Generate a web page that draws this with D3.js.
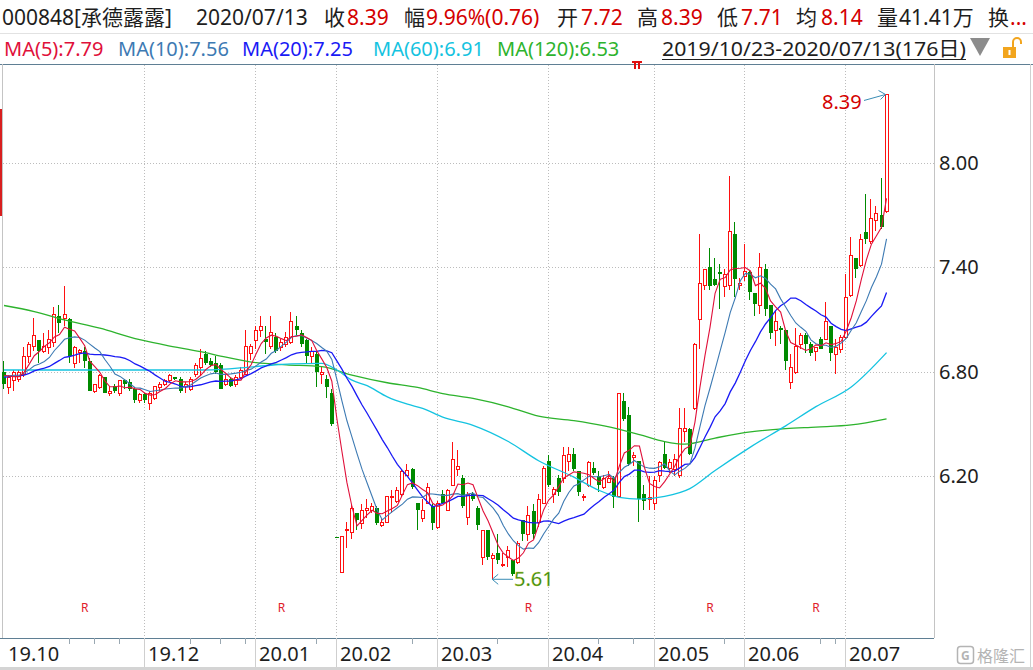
<!DOCTYPE html>
<html><head><meta charset="utf-8">
<script src="https://cdn.jsdelivr.net/npm/d3@7"></script>
<style>
html,body{margin:0;padding:0;background:#fff;}
svg{display:block;font-family:"Noto Sans","Noto Sans CJK SC",sans-serif;}
</style></head>
<body><svg id="c" width="1033" height="670"></svg>
<script>
// ---------------- data ----------------
const opens = [6.80,6.71,6.75,6.76,6.79,6.89,6.95,6.98,6.92,6.94,
6.97,7.12,7.11,7.10,6.85,6.915,6.92,6.86,6.69,6.71,
6.77,6.68,6.72,6.68,6.75,6.74,6.70,6.64,6.67,6.62,
6.65,6.71,6.73,6.75,6.77,6.76,6.72,6.70,6.79,6.83,
6.90,6.86,6.85,6.84,6.73,6.76,6.73,6.77,6.79,6.91,
6.98,7.04,6.99,6.95,7.00,6.94,6.96,6.97,7.06,7.02,
6.98,6.89,6.90,6.79,6.76,6.68,5.85,5.65,5.89,5.88,
5.99,5.93,6.01,6.01,6.02,5.92,5.94,6.08,6.06,6.10,
6.206,6.24,6.05,5.96,6.05,6.03,5.91,6.10,6.01,6.15,
6.24,6.19,5.97,6.10,6.02,5.74,5.89,5.73,5.76,5.69,
5.74,5.72,5.71,5.95,5.87,6.00,5.94,6.05,6.29,6.10,
6.19,6.19,6.29,6.33,6.23,6.08,6.15,6.25,6.20,6.14,
6.167,6.19,6.09,6.63,6.55,6.31,6.29,6.10,6.07,6.05,
6.21,6.33,6.25,6.24,6.21,6.46,6.47,6.59,7.10,7.30,
7.40,7.33,7.37,7.29,7.30,7.59,7.30,7.35,7.37,7.25,
7.18,7.39,7.18,7.04,7.05,7.04,6.74,6.80,6.96,7.01,
6.96,6.92,6.99,6.99,7.06,6.90,6.93,7.00,7.24,7.45,
7.41,7.60,7.55,7.67,7.70,7.72];
const highs = [6.86,6.78,6.81,6.81,6.94,6.97,7.11,6.98,7.02,7.04,
7.17,7.18,7.29,7.11,6.95,6.93,6.94,6.88,6.73,6.79,
6.77,6.72,6.73,6.75,6.76,6.76,6.71,6.68,6.68,6.69,
6.72,6.74,6.76,6.79,6.77,6.77,6.74,6.77,6.85,6.93,
6.92,6.88,6.89,6.85,6.78,6.77,6.78,6.83,7.04,6.96,
7.06,7.12,7.06,7.12,7.02,6.99,7.03,7.14,7.12,7.04,
6.99,6.94,6.92,6.83,6.78,6.70,5.85,5.86,5.94,6.04,
5.99,6.04,6.07,6.05,6.03,5.96,6.09,6.12,6.14,6.24,
6.27,6.25,6.05,6.07,6.16,6.04,6.06,6.12,6.13,6.40,
6.35,6.21,6.11,6.11,6.03,5.89,5.89,5.76,5.87,5.76,
5.80,5.72,5.83,5.95,6.03,6.04,6.10,6.26,6.32,6.14,
6.21,6.37,6.37,6.36,6.23,6.10,6.29,6.28,6.23,6.21,
6.23,6.20,6.68,6.68,6.60,6.34,6.29,6.15,6.20,6.20,
6.29,6.40,6.30,6.33,6.59,6.59,6.48,6.963,7.59,7.39,
7.51,7.45,7.42,7.39,7.92,7.66,7.34,7.53,7.38,7.25,
7.48,7.42,7.18,7.15,7.06,7.04,6.90,7.05,7.02,7.02,
6.97,6.94,7.00,7.20,7.06,6.99,7.01,7.36,7.57,7.45,
7.59,7.82,7.79,7.75,7.91,8.39];
const lows = [6.70,6.67,6.69,6.74,6.77,6.85,6.92,6.85,6.91,6.90,
6.94,7.02,7.06,6.85,6.82,6.85,6.82,6.69,6.68,6.70,
6.68,6.66,6.68,6.66,6.70,6.69,6.62,6.62,6.62,6.58,
6.64,6.69,6.72,6.74,6.75,6.68,6.68,6.69,6.77,6.78,
6.84,6.83,6.79,6.70,6.72,6.71,6.71,6.76,6.78,6.87,
6.93,7.00,6.90,6.93,6.91,6.92,6.94,6.96,7.01,6.94,
6.85,6.85,6.71,6.73,6.65,6.49,5.85,5.65,5.79,5.84,
5.89,5.90,5.96,5.99,5.92,5.91,5.94,5.99,6.05,6.08,
6.20,6.13,5.89,5.94,6.04,5.89,5.90,6.04,6.00,6.15,
6.20,6.02,5.92,6.06,5.89,5.69,5.72,5.61,5.70,5.68,
5.68,5.63,5.70,5.83,5.83,5.84,5.91,6.04,6.14,6.05,
6.09,6.16,6.23,6.23,6.09,6.06,6.14,6.21,6.11,6.13,
6.16,6.02,6.08,6.52,6.26,6.26,5.94,6.01,6.01,6.01,
6.17,6.24,6.22,6.20,6.19,6.40,6.32,6.58,6.93,7.27,
7.27,7.29,7.16,7.23,7.27,7.23,7.27,7.32,7.21,7.12,
7.13,7.12,6.99,6.95,6.96,6.81,6.70,6.79,6.93,6.91,
6.89,6.86,6.93,6.99,6.86,6.79,6.91,6.99,7.23,7.34,
7.40,7.53,7.53,7.61,7.62,7.71];
const closes = [6.73,6.77,6.80,6.80,6.89,6.96,7.01,6.92,6.95,6.99,
7.13,7.08,7.13,6.89,6.94,6.925,6.86,6.69,6.73,6.78,
6.68,6.69,6.69,6.75,6.73,6.70,6.64,6.67,6.64,6.68,
6.72,6.73,6.75,6.78,6.76,6.69,6.73,6.76,6.84,6.88,
6.85,6.84,6.80,6.70,6.76,6.72,6.77,6.81,6.95,6.95,
7.04,7.06,6.97,7.03,6.92,6.97,7.00,7.09,7.04,6.96,
6.89,6.92,6.80,6.80,6.71,6.50,5.85,5.86,5.90,6.02,
5.95,6.01,6.02,6.03,5.93,5.94,6.09,6.09,6.12,6.23,
6.234,6.14,6.01,6.01,6.14,5.93,6.05,6.05,6.12,6.30,
6.26,6.03,6.10,6.07,5.92,5.89,5.74,5.75,5.72,5.70,
5.78,5.64,5.82,5.87,5.98,5.87,6.07,6.25,6.15,6.13,
6.11,6.32,6.33,6.24,6.11,6.09,6.28,6.22,6.15,6.19,
6.192,6.08,6.68,6.53,6.27,6.32,6.07,6.06,6.08,6.18,
6.28,6.25,6.28,6.30,6.48,6.48,6.33,6.96,7.31,7.39,
7.29,7.30,7.36,7.36,7.61,7.33,7.31,7.38,7.26,7.19,
7.40,7.16,7.02,7.09,7.04,6.86,6.83,6.95,7.01,6.96,
6.91,6.94,6.93,7.09,6.91,6.94,7.00,7.23,7.47,7.39,
7.56,7.56,7.68,7.71,7.63,8.39];
// closes of the 19 sessions before 2019/10/23 (for MA5/10/20 warm-up)
const priorCloses = [6.70,6.74,6.78,6.80,6.76,6.72,6.75,6.79,6.81,6.78,6.74,6.77,6.80,6.78,6.75,6.79,6.82,6.80,6.76];
// MA60 / MA120: [session index, value]
const ma60Read = [[0,6.81],[20,6.81],[40,6.81],[50,6.83],[57,6.845],[63,6.848],[66,6.81],[69,6.752],[72,6.72],[76,6.656],[80,6.614],[83,6.59],[87,6.54],[93,6.493],[100,6.40],[106,6.29],[113,6.196],[118,6.12],[122,6.08],[126,6.07],[131,6.085],[136,6.13],[141,6.234],[148,6.368],[155,6.49],[161,6.60],[168,6.713],[175,6.91]];
const ma120Read = [[0,7.18],[6,7.145],[12,7.097],[19,7.05],[26,6.99],[32,6.953],[39,6.915],[44,6.884],[50,6.852],[56,6.84],[63,6.829],[69,6.781],[76,6.737],[82,6.71],[87,6.675],[93,6.647],[100,6.599],[106,6.545],[113,6.52],[119,6.49],[126,6.44],[131,6.40],[135,6.385],[141,6.42],[148,6.455],[155,6.474],[161,6.483],[168,6.495],[175,6.53]];
const yTicks = [8.00, 7.40, 6.80, 6.20];
const monthLabels = ["19.10","19.12","20.01","20.02","20.03","20.04","20.05","20.06","20.07"];
const monthStart = [0,28,50,66,86,108,129,147,167];
const minorTicks = [13,18,23,37,43,48,62,81,98,118,125,143,162,165];
const rMarks = [16,55,104,140,161];

// ---------------- setup ----------------
const W=1033,H=670;
const RED="#ff1010", GREEN="#008a00", DARK="#1e1e1e", NUMRED="#d40000";
const C5="#e0103a", C10="#3d7ab3", C20="#1a1af5", C60="#14c3e0", C120="#2db32d";
const svg=d3.select("#c");
const plotL=3, plotR=934, plotT=64, plotB=638;
const N=closes.length;
const x=d3.scaleBand().domain(d3.range(N)).range([1.5,1.5+N*5.043]).padding(0);
const bw=x.bandwidth();
const xc=i=>x(i)+bw/2;
const cx=i=>Math.round(xc(i));
const y=d3.scaleLinear().domain([6.20,8.00]).range([476.4,162.5]);

// header
const hdr=svg.append("g").attr("font-size",20);
hdr.append("line").attr("x1",0).attr("x2",W).attr("y1",33.5).attr("y2",33.5).attr("stroke","#e2e2e2");
const row1=[
 ["000848[承德露露]",2,DARK],["2020/07/13",196,DARK],["收",324,DARK],["8.39",347,NUMRED],
 ["幅",404,DARK],["9.96%(0.76)",426,NUMRED],["开",557,DARK],["7.72",581,NUMRED],
 ["高",637,DARK],["8.39",661,NUMRED],["低",717,DARK],["7.71",741,NUMRED],
 ["均",796,DARK],["8.14",821,NUMRED],["量",877,DARK],["41.41万",899,DARK],
 ["换",988,DARK],["...",1010,NUMRED]];
row1.forEach(d=>hdr.append("text").attr("x",d[1]).attr("y",25).attr("font-size",21).attr("fill",d[2]).text(d[0]));
const row2=[["MA(5):7.79",4,C5],["MA(10):7.56",118,C10],["MA(20):7.25",242,C20],["MA(60):6.91",373,C60],["MA(120):6.53",497,C120]];
row2.forEach(d=>hdr.append("text").attr("x",d[1]).attr("y",56).attr("fill",d[2]).text(d[0]));
hdr.append("text").attr("x",662).attr("y",56).attr("fill",DARK).attr("textLength",304).attr("lengthAdjust","spacingAndGlyphs").text("2019/10/23-2020/07/13(176日)");
hdr.append("line").attr("x1",662).attr("x2",966).attr("y1",59.5).attr("y2",59.5).attr("stroke",DARK);
hdr.append("path").attr("d","M970,38 L990,38 L980,56 Z").attr("fill","#8c8c8c");
// lock
hdr.append("rect").attr("x",1003).attr("y",47).attr("width",13).attr("height",11).attr("fill","#f2a51e");
hdr.append("rect").attr("x",1008.5).attr("y",50).attr("width",2).attr("height",5).attr("fill","#fff");
hdr.append("path").attr("d","M1013,47 L1013,42 A4,4 0 0 1 1021,42 L1021,44").attr("fill","none").attr("stroke","#f2a51e").attr("stroke-width",2);

// frame
const fr=svg.append("g").attr("shape-rendering","crispEdges");
fr.append("line").attr("x1",0).attr("x2",W).attr("y1",64.5).attr("y2",64.5).attr("stroke","#5f7f94");
fr.append("line").attr("x1",2.5).attr("x2",2.5).attr("y1",64).attr("y2",plotB).attr("stroke","#c4c4c4");
fr.append("line").attr("x1",plotR+0.5).attr("x2",plotR+0.5).attr("y1",64).attr("y2",plotB).attr("stroke","#c4c4c4");
fr.append("line").attr("x1",1030.5).attr("x2",1030.5).attr("y1",64).attr("y2",H).attr("stroke","#d0d0d0");
fr.append("rect").attr("x",0).attr("y",109).attr("width",2).attr("height",107).attr("fill","#d81e1e");
// news marker
fr.append("path").attr("d","M632,61 h10 v2 h-2 v6 h-2 v-6 h-2 v6 h-2 v-6 h-2 z").attr("fill","#e01010");

// grid
const gr=svg.append("g").attr("shape-rendering","crispEdges").attr("stroke","#bcbcbc").attr("stroke-dasharray","1,2");
yTicks.forEach(v=>gr.append("line").attr("x1",plotL).attr("x2",plotR).attr("y1",Math.round(y(v))+0.5).attr("y2",Math.round(y(v))+0.5));
monthStart.slice(1).forEach(i=>gr.append("line").attr("x1",cx(i)-0.5).attr("x2",cx(i)-0.5).attr("y1",65).attr("y2",plotB));
// y labels
const yl=svg.append("g").attr("font-size",20).attr("fill",DARK);
yTicks.forEach(v=>yl.append("text").attr("x",939).attr("y",y(v)+7).text(d3.format(".2f")(v)));

// x axis
const xa=svg.append("g").attr("shape-rendering","crispEdges");
xa.append("line").attr("x1",0).attr("x2",plotR).attr("y1",plotB+0.5).attr("y2",plotB+0.5).attr("stroke","#5f7f94");
monthStart.slice(1).forEach(i=>xa.append("line").attr("x1",cx(i)-0.5).attr("x2",cx(i)-0.5).attr("y1",plotB).attr("y2",667).attr("stroke","#cfcfcf"));
minorTicks.forEach(i=>xa.append("line").attr("x1",cx(i)-0.5).attr("x2",cx(i)-0.5).attr("y1",plotB).attr("y2",plotB+6).attr("stroke","#9aa8b2"));
monthLabels.forEach((t,k)=>svg.append("text").attr("x",monthStart[k]===0?8:cx(monthStart[k])+3).attr("y",661).attr("font-size",20).attr("fill",DARK).text(t));
xa.append("rect").attr("x",0).attr("y",667).attr("width",W).attr("height",3).attr("fill","#d4d4d4");
rMarks.forEach(i=>svg.append("text").attr("x",xc(i)).attr("y",612).attr("text-anchor","middle").attr("font-size",12).attr("fill","#e0202a").text("R"));
// watermark
svg.append("rect").attr("x",957.5).attr("y",646.5).attr("width",16).attr("height",17).attr("rx",3).attr("fill","none").attr("stroke","#b4b4b4").attr("stroke-width",1.5);
svg.append("text").attr("x",961).attr("y",660).attr("font-size",12).attr("font-weight","bold").attr("fill","#b4b4b4").text("G");
svg.append("text").attr("x",977).attr("y",662).attr("font-size",16).attr("fill","#b4b4b4").attr("font-family","Noto Sans CJK SC").text("格隆汇");

// ---------------- MA lines ----------------
const all=priorCloses.concat(closes), P=priorCloses.length;
function ma(n){return closes.map((c,i)=>d3.mean(all.slice(P+i-n+1,P+i+1)));}
const line=d3.line().x((d,i)=>xc(i)).y(d=>y(d));
const lineK=d3.line().x(d=>xc(d[0])).y(d=>y(d[1])).curve(d3.curveMonotoneX);
const ml=svg.append("g").attr("fill","none");
ml.append("path").attr("d",lineK(ma120Read)).attr("stroke",C120).attr("stroke-width",1.3);
ml.append("path").attr("d",lineK(ma60Read)).attr("stroke",C60).attr("stroke-width",1.3);

// ---------------- candles ----------------
const cg=svg.append("g").attr("shape-rendering","crispEdges");
closes.forEach((c,i)=>{
  const o=opens[i],h=highs[i],l=lows[i];
  const prev=i>0?closes[i-1]:o;
  const up = c>o || (c===o && c>=prev);
  const X=cx(i);
  const yT=Math.round(y(Math.max(o,c))), yB=Math.round(y(Math.min(o,c)));
  const yH=Math.round(y(h)), yL=Math.round(y(l));
  if(up){
    if(yH<yT) cg.append("line").attr("x1",X-0.5).attr("x2",X-0.5).attr("y1",yH).attr("y2",yT).attr("stroke",RED);
    if(yL>yB) cg.append("line").attr("x1",X-0.5).attr("x2",X-0.5).attr("y1",yB).attr("y2",yL).attr("stroke",RED);
    if(yB-yT<1) cg.append("line").attr("x1",X-2).attr("x2",X+2).attr("y1",yT+0.5).attr("y2",yT+0.5).attr("stroke",RED);
    else cg.append("rect").attr("x",X-1.5).attr("y",yT+0.5).attr("width",3).attr("height",yB-yT).attr("fill","#fff").attr("stroke",RED);
  } else {
    if(yL>yH) cg.append("line").attr("x1",X-0.5).attr("x2",X-0.5).attr("y1",yH).attr("y2",yL).attr("stroke",GREEN);
    cg.append("rect").attr("x",X-2).attr("y",yT).attr("width",4).attr("height",Math.max(1,yB-yT)).attr("fill",GREEN);
  }
});

ml.raise();
ml.append("path").attr("d",line(ma(20))).attr("stroke",C20).attr("stroke-width",1.3);
ml.append("path").attr("d",line(ma(10))).attr("stroke",C10).attr("stroke-width",1.1);
ml.append("path").attr("d",line(ma(5))).attr("stroke",C5).attr("stroke-width",1.1);

// ---------------- extreme annotations ----------------
const iMax=d3.maxIndex(highs), iMin=d3.minIndex(lows);
const ARW="#3a8db5";
const ax=svg.append("g").attr("fill","none").attr("stroke",ARW);
const tx=xc(iMax)-1, ty=y(highs[iMax]);
ax.append("line").attr("x1",864).attr("y1",ty+6).attr("x2",tx).attr("y2",ty);
ax.append("path").attr("d",`M${tx-7},${ty-4} L${tx},${ty} L${tx-5},${ty+5}`);
svg.append("text").attr("x",822).attr("y",ty+15).attr("font-size",20).attr("fill",NUMRED).text(d3.format(".2f")(highs[iMax]));
const bx=xc(iMin)-1, by=y(lows[iMin]);
ax.append("line").attr("x1",bx).attr("y1",by).attr("x2",513).attr("y2",by);
ax.append("path").attr("d",`M${bx+6},${by-5} L${bx},${by} L${bx+6},${by+5}`);
svg.append("text").attr("x",514).attr("y",by+7).attr("font-size",20).attr("fill","#2e8a12").attr("stroke","#d8d040").attr("stroke-width",0.3).text(d3.format(".2f")(lows[iMin]));
</script></body></html>
